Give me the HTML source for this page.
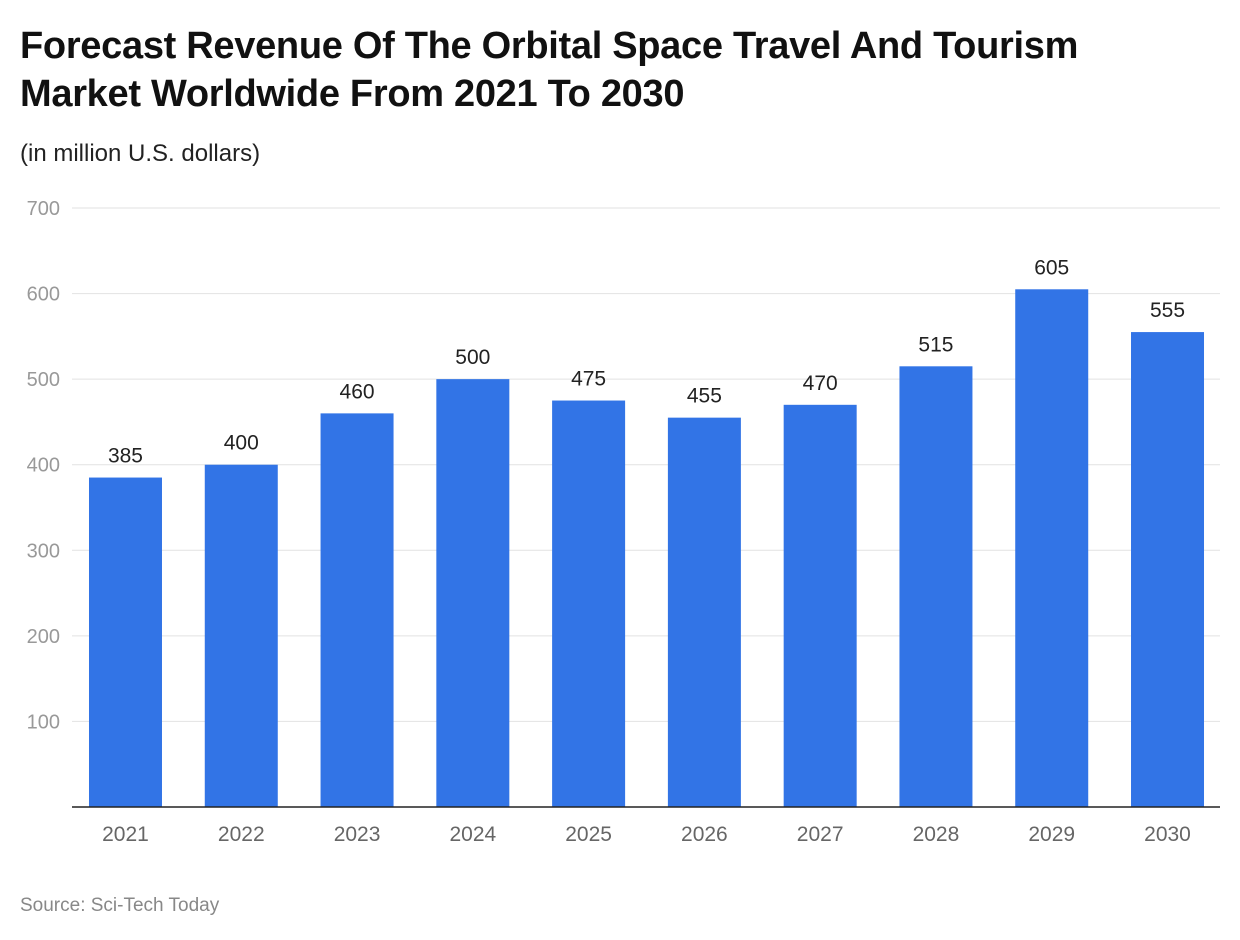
<!DOCTYPE html>
<html><head><meta charset="utf-8">
<style>
body{margin:0;background:#fff;font-family:"Liberation Sans",sans-serif;}
#wrap{position:relative;width:1240px;height:940px;overflow:hidden;}
h1{position:absolute;left:20px;top:22px;margin:0;font-size:38px;line-height:48px;font-weight:bold;color:#111;letter-spacing:-0.3px;}
.sub{position:absolute;left:20px;top:140px;font-size:24px;color:#222;}
.src{position:absolute;left:20px;top:895px;font-size:19px;color:#888;}
</style></head><body>
<div id="wrap">
<h1>Forecast Revenue Of The Orbital Space Travel And Tourism<br>Market Worldwide From 2021 To 2030</h1>
<div class="sub">(in million U.S. dollars)</div>
<svg id="chart" width="1240" height="940" style="position:absolute;left:0;top:0"></svg>
<div class="src">Source: Sci-Tech Today</div>
</div>
<script>
const categories=["2021","2022","2023","2024","2025","2026","2027","2028","2029","2030"];
const values=[385,400,460,500,475,455,470,515,605,555];
const yTicks=[100,200,300,400,500,600,700];
const NS="http://www.w3.org/2000/svg";
const svg=document.getElementById("chart");
const y0=807,yTop=208,yMax=700;
function y(v){return y0-(v/yMax)*(y0-yTop);}
const bandStart=67.6,step=115.78,bw=73;
function x(i){return bandStart+step*i+step/2;}
function mk(t,a){const e=document.createElementNS(NS,t);for(const k in a)e.setAttribute(k,a[k]);svg.appendChild(e);return e;}
yTicks.forEach(t=>{
  const l=mk("line",{x1:72,x2:1220,y1:y(t),y2:y(t),stroke:"#e2e2e2","stroke-width":1});
  
  
  const tx=mk("text",{x:60,y:y(t)+7,"text-anchor":"end","font-size":20,fill:"#999","font-family":"Liberation Sans, sans-serif"});
  tx.textContent=t;
  
  
});
values.forEach((v,i)=>{
  const r=mk("rect",{x:x(i)-bw/2,y:y(v),width:bw,height:y0-y(v),fill:"#3274e6"});
  
  
  const lb=mk("text",{x:x(i),y:y(v)-15,"text-anchor":"middle","font-size":21,fill:"#222","font-family":"Liberation Sans, sans-serif"});
  lb.textContent=v;
  
  
  const xl=mk("text",{x:x(i),y:841,"text-anchor":"middle","font-size":21,fill:"#666","font-family":"Liberation Sans, sans-serif"});
  xl.textContent=categories[i];
  
  
});
const ax=mk("line",{x1:72,x2:1220,y1:y0,y2:y0,stroke:"#222","stroke-width":1.5});


</script>
</body></html>
